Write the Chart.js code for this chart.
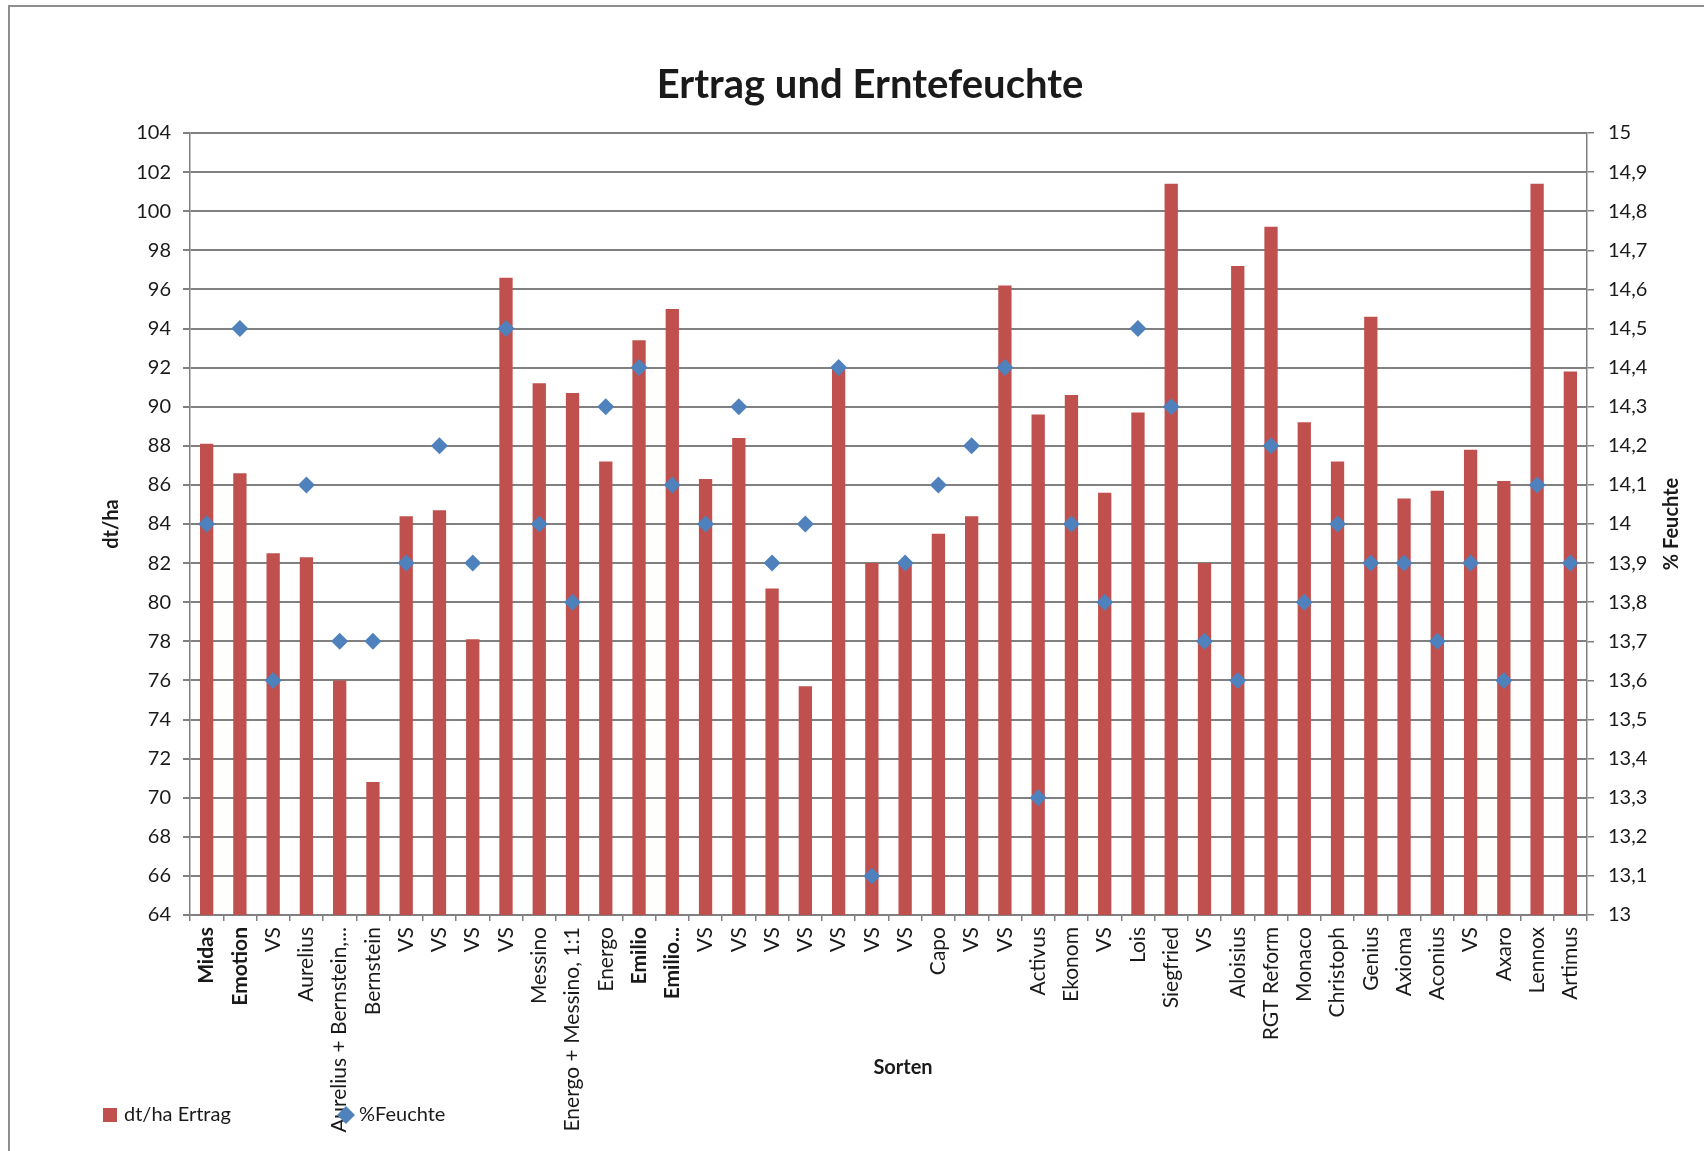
<!DOCTYPE html>
<html lang="de">
<head>
<meta charset="utf-8">
<title>Ertrag und Erntefeuchte</title>
<script src="https://cdn.jsdelivr.net/npm/chart.js@4.4.1/dist/chart.umd.min.js"></script>
<style>
	html, body { margin: 0; padding: 0; background: #fff; }
	#wrap { position: relative; width: 1704px; height: 1151px; overflow: hidden; }
	#wrap canvas { position: absolute; left: 0; top: 0; }
	/* grauer Rahmen des Diagrammbereichs */
	#frame { position: absolute; left: 8px; top: 5px; right: -10px; bottom: -10px; border: 2px solid #8e8e8e; pointer-events: none; }
</style>
</head>
<body>
<div id="wrap">
	<canvas id="ertragChart" width="1704" height="1151"></canvas>
	<div id="frame"></div>
</div>
<script>
"use strict";

// Sorten (Kategorien der x-Achse)
const sorten = ["Midas", "Emotion", "VS", "Aurelius", "Aurelius + Bernstein,...", "Bernstein", "VS", "VS", "VS", "VS",
	"Messino", "Energo + Messino, 1:1", "Energo", "Emilio", "Emilio...", "VS", "VS", "VS", "VS", "VS",
	"VS", "VS", "Capo", "VS", "VS", "Activus", "Ekonom", "VS", "Lois", "Siegfried",
	"VS", "Aloisius", "RGT Reform", "Monaco", "Christoph", "Genius", "Axioma", "Aconius", "VS", "Axaro",
	"Lennox", "Artimus"];

// Ertrag in dt/ha
const ertrag = [88.1, 86.6, 82.5, 82.3, 76.0, 70.8, 84.4, 84.7, 78.1, 96.6,
	91.2, 90.7, 87.2, 93.4, 95.0, 86.3, 88.4, 80.7, 75.7, 92.0,
	82.0, 82.0, 83.5, 84.4, 96.2, 89.6, 90.6, 85.6, 89.7, 101.4,
	82.0, 97.2, 99.2, 89.2, 87.2, 94.6, 85.3, 85.7, 87.8, 86.2,
	101.4, 91.8];

// Erntefeuchte in %
const feuchte = [14.0, 14.5, 13.6, 14.1, 13.7, 13.7, 13.9, 14.2, 13.9, 14.5,
	14.0, 13.8, 14.3, 14.4, 14.1, 14.0, 14.3, 13.9, 14.0, 14.4,
	13.1, 13.9, 14.1, 14.2, 14.4, 13.3, 14.0, 13.8, 14.5, 14.3,
	13.7, 13.6, 14.2, 13.8, 14.0, 13.9, 13.9, 13.7, 13.9, 13.6,
	14.1, 13.9];

// Achsen: [min, max, Schritt]
const ertragAchse = [64, 104, 2];
const feuchteAchse = [13, 15, 0.1];

// fett geschriebene Sorten (Index)
const fetteSorten = [0, 1, 13, 14];

const rot = "#c0504d";
const blau = "#4f81bd";
const grau = "#808080";
const schrift = "Lato, 'Open Sans', sans-serif";

// Legende, Achsentitel "Sorten" und "% Feuchte" wie im Excel-Diagramm
const legendePlugin = {
	id: "legende",
	afterDraw(chart) {
		const ctx = chart.ctx;
		const mitte = (chart.chartArea.top + chart.chartArea.bottom) / 2;
		ctx.save();
		ctx.fillStyle = "#1a1a1a";
		ctx.textBaseline = "middle";

		ctx.font = "bold 20px " + schrift;
		ctx.textAlign = "center";
		ctx.fillText("Sorten", 903, 1068);

		// % Feuchte (von unten nach oben)
		ctx.save();
		ctx.translate(1672, mitte);
		ctx.rotate(-Math.PI / 2);
		ctx.fillText("% Feuchte", 0, 0);
		ctx.restore();

		ctx.font = "20px " + schrift;
		ctx.textAlign = "left";
		// Balken
		ctx.fillStyle = rot;
		ctx.fillRect(103, 1108, 14, 14);
		ctx.fillStyle = "#1a1a1a";
		ctx.fillText("dt/ha Ertrag", 124, 1115);
		// Raute
		ctx.fillStyle = blau;
		ctx.beginPath();
		ctx.moveTo(346, 1106);
		ctx.lineTo(355, 1115);
		ctx.lineTo(346, 1124);
		ctx.lineTo(337, 1115);
		ctx.closePath();
		ctx.fill();
		ctx.fillStyle = "#1a1a1a";
		ctx.fillText("%Feuchte", 359, 1115);
		ctx.restore();
	}
};

const context = document.getElementById("ertragChart").getContext("2d");
new Chart(context, {
	data: {
		labels: sorten,
		datasets: [{
			type: "line",
			label: "%Feuchte",
			data: feuchte,
			yAxisID: "y2",
			showLine: false,
			pointStyle: "rectRot",
			pointRadius: 8.5,
			pointHoverRadius: 8.5,
			pointBackgroundColor: blau,
			pointBorderColor: blau,
			pointBorderWidth: 0,
			order: 0
		}, {
			type: "bar",
			label: "dt/ha Ertrag",
			data: ertrag,
			yAxisID: "y",
			backgroundColor: rot,
			barPercentage: 0.4,
			categoryPercentage: 1.0,
			order: 1
		}]
	},
	options: {
		responsive: false,
		animation: false,
		layout: {
			padding: { left: 36, right: 0, top: 0, bottom: 0 }
		},
		scales: {
			x: {
				afterFit(scale) { scale.height = 236; },
				grid: { display: true, drawOnChartArea: false, drawTicks: true, tickLength: 6, color: grau, lineWidth: 1.5 },
				border: { display: true, color: grau, width: 1.5 },
				ticks: {
					autoSkip: false,
					minRotation: 90,
					maxRotation: 90,
					padding: 6,
					color: "#1a1a1a",
					font: (c) => ({ family: schrift, size: 21, weight: fetteSorten.includes(c.index) ? "bold" : "normal" })
				}
			},
			y: {
				position: "left",
				min: ertragAchse[0],
				max: ertragAchse[1],
				afterFit(scale) { scale.width = 154; },
				grid: { color: grau, lineWidth: 2, tickLength: 7 },
				border: { display: true, color: grau, width: 1.5 },
				ticks: {
					stepSize: ertragAchse[2],
					padding: 12,
					color: "#1a1a1a",
					font: { family: schrift, size: 20 }
				},
				title: {
					display: true,
					text: "dt/ha",
					color: "#1a1a1a",
					font: { family: schrift, size: 20, weight: "bold" },
					padding: { top: 64, bottom: 0 }
				}
			},
			y2: {
				position: "right",
				min: feuchteAchse[0],
				max: feuchteAchse[1],
				afterFit(scale) { scale.width = 117; },
				grid: { drawOnChartArea: false, color: grau, lineWidth: 1.5, tickLength: 7 },
				border: { display: true, color: grau, width: 1.5 },
				ticks: {
					stepSize: feuchteAchse[2],
					padding: 14,
					color: "#1a1a1a",
					font: { family: schrift, size: 20 },
					callback: (v) => String(Math.round(v * 10) / 10).replace(".", ",")
				}
			}
		},
		plugins: {
			legend: { display: false },
			tooltip: { enabled: false },
			title: {
				display: true,
				text: "Ertrag und Erntefeuchte",
				color: "#1a1a1a",
				font: { family: schrift, size: 40, weight: "bold" },
				padding: { top: 61, bottom: 24 }
			}
		}
	},
	plugins: [legendePlugin]
});
</script>
</body>
</html>
